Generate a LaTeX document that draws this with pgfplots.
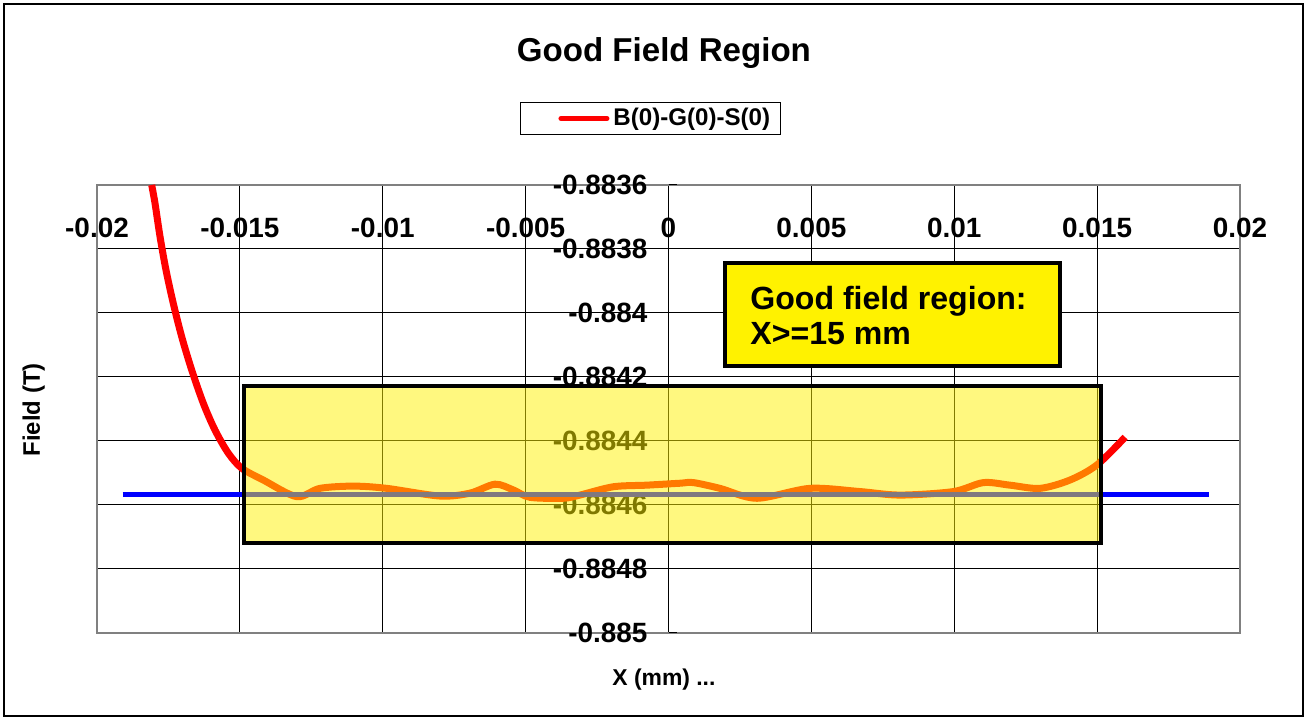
\documentclass[border=0pt]{standalone}
\usepackage{pgfplots}
\pgfplotsset{compat=1.18}
\usepackage{fontspec}
\setmainfont{Liberation Sans}

\pgfplotstableread{
x y
-0.018086 -0.883600
-0.017970 -0.883657
-0.017795 -0.883761
-0.017585 -0.883866
-0.017330 -0.883970
-0.017036 -0.884074
-0.016686 -0.884178
-0.016280 -0.884282
-0.015870 -0.884366
-0.015405 -0.884438
-0.014936 -0.884485
-0.01418 -0.884522
-0.01301 -0.884574
-0.01220 -0.884548
-0.01103 -0.884541
-0.00986 -0.884548
-0.00800 -0.884572
-0.00695 -0.884563
-0.00607 -0.884535
-0.00543 -0.884553
-0.00485 -0.884576
-0.00368 -0.884579
-0.00310 -0.884569
-0.00193 -0.884543
-0.00076 -0.884538
0.00040 -0.884532
0.00087 -0.884530
0.00180 -0.884548
0.00309 -0.884579
0.00495 -0.884548
0.00670 -0.884558
0.00810 -0.884569
0.00997 -0.884558
0.01102 -0.884530
0.01195 -0.884538
0.01300 -0.884548
0.01405 -0.884522
0.01499 -0.884475
0.01598 -0.884388
}\fieldtable

\pgfplotstableread{
x y
-0.0191 -0.884566
0.0189 -0.884566
}\reftable

\begin{document}
\begin{tikzpicture}
\useasboundingbox (0bp,0bp) rectangle (653.5bp,360bp);
\draw[black, line width=0.6bp] (2bp,2bp) rectangle (651.5bp,358bp);
\begin{axis}[
  at={(48.5bp,43.5bp)}, anchor=south west,
  scale only axis, width=571.5bp, height=224bp,
  xmin=-0.02, xmax=0.02, ymin=-0.885, ymax=-0.8836,
  scaled x ticks=false, scaled y ticks=false,
  xtick={-0.02,-0.015,-0.01,-0.005,0,0.005,0.01,0.015,0.02},
  xticklabels={-0.02,-0.015,-0.01,-0.005,0,0.005,0.01,0.015,0.02},
  ytick={-0.885,-0.8848,-0.8846,-0.8844,-0.8842,-0.884,-0.8838,-0.8836},
  yticklabels={-0.885,-0.8848,-0.8846,-0.8844,-0.8842,-0.884,-0.8838,-0.8836},
  grid=major, grid style={black, line width=0.5bp},
  axis line style={gray, line width=1bp},
  major tick length=0pt,
  xticklabel pos=upper,
  tick label style={font=\fontsize{14}{16}\selectfont\bfseries},
  xticklabel style={anchor=center, yshift=-21.6bp},
  yticklabel style={anchor=east, xshift=278.7bp},
  title={Good Field Region},
  title style={at={(axis description cs:0.496,1.2678)}, anchor=center, font=\fontsize{16.6}{18}\selectfont\bfseries},
  xlabel={X (mm) ...},
  xlabel style={at={(axis description cs:0.496,-0.1049)}, anchor=center, font=\fontsize{11.5}{13}\selectfont\bfseries},
  ylabel={Field (T)},
  ylabel style={at={(axis description cs:-0.0555,0.498)}, anchor=center, font=\fontsize{12}{14}\selectfont\bfseries},
  legend style={at={(axis description cs:0.4843,1.1484)}, anchor=center, draw=black, line width=0.5bp,
    font=\fontsize{12.1}{14}\selectfont\bfseries, inner xsep=3bp, inner ysep=1bp},
  legend image code/.code={\path[draw=none] (-17bp,0bp) -- (0bp,0bp); \draw[#1, line width=2.5bp, line cap=round] (0bp,0bp) -- (23bp,0bp);},
  clip=true,
]
\addplot[red, line width=3.5bp, smooth, tension=0.5] table {\fieldtable};
\addlegendentry{B(0)-G(0)-S(0)}
\addplot[blue, line width=2.5bp, forget plot] table {\reftable};
\pgfplotsinvokeforeach{-0.885,-0.8848,-0.8846,-0.8844,-0.8842,-0.884,-0.8838,-0.8836}{
  \draw[black, line width=0.5bp] (axis cs:0,#1) -- ++(4bp,0bp);
}
\coordinate (ga) at (axis cs:-0.014856,-0.884228);
\coordinate (gb) at (axis cs:0.015136,-0.884719);
\coordinate (na) at (axis cs:0.001978,-0.883844);
\coordinate (nb) at (axis cs:0.013700,-0.884166);
\coordinate (nt) at (axis cs:0.002852,-0.884008);
\end{axis}
\fill[yellow, opacity=0.5] (ga) rectangle (gb);
\draw[black, line width=2bp] (ga) rectangle (gb);
\draw[black, fill=yellow, line width=2bp] (na) rectangle (nb);
\node[anchor=west, inner sep=0pt, align=left, font=\fontsize{16.1}{17.5}\selectfont\bfseries] at (nt) {Good field region:\\X>=15 mm};
\end{tikzpicture}
\end{document}
